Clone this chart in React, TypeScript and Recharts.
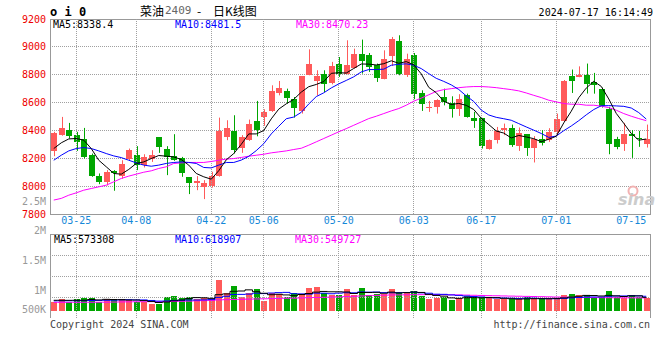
import {
  Bar,
  CartesianGrid,
  ComposedChart,
  Line,
  ReferenceArea,
  ReferenceLine,
  XAxis,
  YAxis,
} from 'recharts';

const dates = [
  '03-20', '03-21', '03-22', '03-25', '03-26', '03-27', '03-28', '03-29',
  '04-01', '04-02', '04-03', '04-08', '04-09', '04-10', '04-11', '04-12',
  '04-15', '04-16', '04-17', '04-18', '04-19', '04-22', '04-23', '04-24',
  '04-25', '04-26', '04-29', '04-30', '05-06', '05-07', '05-08', '05-09',
  '05-10', '05-13', '05-14', '05-15', '05-16', '05-17', '05-20', '05-21',
  '05-22', '05-23', '05-24', '05-27', '05-28', '05-29', '05-30', '05-31',
  '06-03', '06-04', '06-05', '06-06', '06-07', '06-11', '06-12', '06-13',
  '06-14', '06-17', '06-18', '06-19', '06-20', '06-21', '06-24', '06-25',
  '06-26', '06-27', '06-28', '07-01', '07-02', '07-03', '07-04', '07-05',
  '07-08', '07-09', '07-10', '07-11', '07-12', '07-15', '07-16', '07-17',
];

const opens = [
  8253, 8368, 8401, 8366, 8337, 8225, 8074, 8029, 8108, 8076,
  8198, 8222, 8151, 8193, 8351, 8265, 8217, 8201, 8064, 8024,
  7995, 8000, 8072, 8354, 8394, 8277, 8330, 8469, 8497, 8540,
  8669, 8681, 8624, 8538, 8801, 8755, 8808, 8741, 8880, 8808,
  8851, 8951, 8944, 8872, 8767, 8934, 9040, 8796, 8939, 8672,
  8564, 8569, 8640, 8597, 8552, 8653, 8490, 8490, 8265, 8330,
  8401, 8421, 8287, 8373, 8277, 8335, 8330, 8390, 8466, 8789,
  8784, 8796, 8748, 8695, 8552, 8342, 8306, 8371, 8347, 8301,
];

const highs = [
  8390, 8497, 8454, 8390, 8418, 8234, 8091, 8115, 8115, 8186,
  8270, 8287, 8229, 8258, 8351, 8287, 8373, 8210, 8064, 8072,
  8043, 8103, 8492, 8473, 8509, 8366, 8478, 8612, 8552, 8724,
  8755, 8700, 8640, 8791, 8982, 8832, 8832, 8892, 8927, 9047,
  8987, 9052, 8956, 8880, 8975, 9071, 9083, 8951, 8956, 8688,
  8612, 8624, 8700, 8645, 8660, 8664, 8533, 8490, 8335, 8425,
  8449, 8442, 8421, 8373, 8359, 8402, 8416, 8521, 8762, 8837,
  8860, 8880, 8813, 8707, 8569, 8354, 8454, 8402, 8397, 8442,
];

const lows = [
  8215, 8362, 8342, 8253, 8198, 8067, 8014, 8005, 7967, 8053,
  8182, 8115, 8134, 8174, 8239, 8079, 8182, 8067, 7943, 7971,
  7907, 7990, 8068, 8330, 8234, 8239, 8325, 8358, 8433, 8533,
  8652, 8593, 8492, 8521, 8796, 8652, 8676, 8731, 8784, 8803,
  8844, 8808, 8820, 8748, 8767, 8863, 8796, 8784, 8624, 8540,
  8533, 8521, 8580, 8492, 8504, 8492, 8418, 8270, 8262, 8306,
  8366, 8282, 8253, 8217, 8170, 8292, 8318, 8366, 8461, 8669,
  8782, 8665, 8664, 8564, 8229, 8265, 8253, 8203, 8282, 8277,
];

const closes = [
  8382, 8416, 8358, 8318, 8208, 8074, 8029, 8100, 8091, 8158,
  8263, 8151, 8206, 8222, 8282, 8206, 8186, 8096, 8024, 8036,
  8024, 8072, 8397, 8414, 8263, 8354, 8445, 8401, 8533, 8681,
  8707, 8633, 8562, 8791, 8875, 8789, 8736, 8860, 8808, 8868,
  8951, 8896, 8856, 8777, 8915, 9054, 8808, 8915, 8664, 8588,
  8569, 8617, 8605, 8552, 8629, 8497, 8468, 8287, 8330, 8397,
  8421, 8294, 8378, 8275, 8335, 8311, 8387, 8481, 8755, 8755,
  8798, 8731, 8724, 8574, 8301, 8282, 8373, 8359, 8335, 8342,
];

const ma5 = [
  8270, 8311, 8339, 8342, 8330, 8270, 8186, 8139, 8091, 8086,
  8120, 8163, 8174, 8198, 8220, 8215, 8210, 8191, 8151, 8091,
  8067, 8050, 8111, 8189, 8234, 8300, 8375, 8375, 8399, 8483,
  8553, 8591, 8623, 8675, 8714, 8730, 8751, 8810, 8814, 8812,
  8845, 8877, 8876, 8870, 8879, 8900, 8882, 8894, 8871, 8806,
  8709, 8671, 8609, 8586, 8594, 8580, 8550, 8487, 8442, 8396,
  8381, 8346, 8364, 8353, 8341, 8319, 8337, 8358, 8454, 8538,
  8635, 8704, 8753, 8716, 8626, 8522, 8451, 8378, 8330, 8338.4,
];

const ma10 = [
  8186, 8222, 8253, 8270, 8277, 8270, 8253, 8234, 8217, 8205,
  8186, 8167, 8151, 8143, 8151, 8163, 8170, 8174, 8170, 8163,
  8134, 8131, 8151, 8170, 8170, 8187, 8214, 8255, 8305, 8375,
  8430, 8484, 8496, 8530, 8590, 8643, 8670, 8705, 8734, 8759,
  8785, 8820, 8837, 8837, 8840, 8868, 8875, 8878, 8868, 8844,
  8808, 8774, 8752, 8727, 8694, 8648, 8608, 8546, 8511, 8494,
  8484, 8473, 8449, 8425, 8402, 8378, 8350, 8360, 8398, 8432,
  8470, 8512, 8550, 8577, 8578, 8576, 8573, 8561, 8528, 8481.5,
];

const ma30 = [
  7900, 7912, 7935, 7952, 7971, 7983, 7995, 8007, 8031, 8055,
  8072, 8086, 8100, 8110, 8127, 8139, 8163, 8167, 8170, 8170,
  8170, 8177, 8186, 8194, 8198, 8206, 8215, 8222, 8229, 8239,
  8246, 8253, 8263, 8272, 8294, 8318, 8342, 8366, 8390, 8413,
  8437, 8461, 8485, 8502, 8521, 8540, 8557, 8581, 8610, 8632,
  8656, 8680, 8693, 8700, 8707, 8712, 8715, 8715, 8712, 8707,
  8700, 8693, 8684, 8669, 8652, 8636, 8617, 8605, 8593, 8588,
  8588, 8581, 8581, 8574, 8564, 8545, 8521, 8502, 8485, 8470.23,
];

const volumes = [
  365000, 491000, 365000, 504000, 533000, 533000, 391000, 491000, 462000, 504000,
  462000, 391000, 365000, 281000, 281000, 575000, 630000, 533000, 575000, 504000,
  533000, 504000, 1302000, 743000, 1050000, 601000, 743000, 911000, 420000, 743000,
  701000, 601000, 743000, 672000, 953000, 995000, 743000, 672000, 672000, 911000,
  672000, 953000, 672000, 714000, 714000, 911000, 785000, 743000, 827000, 630000,
  504000, 559000, 601000, 462000, 533000, 630000, 575000, 575000, 533000, 491000,
  491000, 491000, 491000, 575000, 533000, 491000, 491000, 559000, 672000, 701000,
  672000, 672000, 533000, 575000, 827000, 575000, 533000, 672000, 575000, 533000,
];

const volMa5 = [
  450000, 452000, 448000, 452000, 452000, 485000, 465000, 490000, 482000, 476000,
  462000, 462000, 437000, 401000, 356000, 379000, 426000, 460000, 519000, 563000,
  555000, 530000, 684000, 717000, 826000, 840000, 888000, 810000, 745000, 684000,
  704000, 675000, 642000, 692000, 734000, 793000, 821000, 807000, 807000, 799000,
  734000, 776000, 776000, 784000, 745000, 793000, 759000, 773000, 796000, 779000,
  698000, 653000, 624000, 551000, 532000, 557000, 560000, 555000, 569000, 561000,
  533000, 516000, 499000, 508000, 516000, 516000, 516000, 530000, 549000, 583000,
  619000, 655000, 650000, 631000, 656000, 636000, 609000, 636000, 636000, 573308,
];

const volMa10 = [
  425000, 428000, 430000, 432000, 436000, 440000, 445000, 450000, 455000, 464000,
  474000, 464000, 464000, 442000, 416000, 421000, 444000, 449000, 460000, 460000,
  467000, 478000, 572000, 618000, 695000, 698000, 709000, 747000, 731000, 755000,
  772000, 782000, 726000, 719000, 709000, 749000, 748000, 725000, 750000, 767000,
  764000, 799000, 792000, 796000, 772000, 764000, 768000, 775000, 790000, 762000,
  746000, 706000, 699000, 674000, 656000, 628000, 607000, 590000, 560000, 547000,
  545000, 538000, 527000, 539000, 539000, 525000, 516000, 515000, 529000, 550000,
  568000, 586000, 590000, 590000, 620000, 628000, 632000, 643000, 634000, 618907,
];

const volMa30 = [
  362000, 363000, 364000, 365000, 366000, 367000, 368000, 370000, 375000, 380000,
  384000, 388000, 390000, 392000, 393000, 396000, 400000, 408000, 415000, 425000,
  435000, 445000, 465000, 475000, 485000, 492000, 498000, 505000, 512000, 520000,
  528000, 535000, 540000, 548000, 558000, 568000, 576000, 584000, 592000, 605000,
  618000, 632000, 645000, 655000, 665000, 672000, 676000, 680000, 684000, 686000,
  687000, 688000, 686000, 682000, 676000, 668000, 660000, 652000, 646000, 640000,
  632000, 626000, 620000, 614000, 608000, 602000, 595000, 588000, 582000, 576000,
  572000, 568000, 564000, 561000, 558000, 556000, 554000, 552000, 551000, 549727,
];

const dateTicks = ['03-25', '04-08', '04-22', '05-06', '05-20', '06-03', '06-17', '07-01', '07-15'];
// sina leaves the last date without a grid line
const gridDates = ['03-25', '04-08', '04-22', '05-06', '05-20', '06-03', '06-17', '07-01'];
const priceTicks = [7800, 8000, 8200, 8400, 8600, 8800, 9000, 9200];
const volumeLabels = ['2.5M', '2M', '1.5M', '1M', '500K'];

const RED = '#ff5a5a';
const GREEN = '#00a600';
const GRID = '#a0a0a0';
const BORDER = '#999999';
const MONO = '"DejaVu Sans Mono", monospace';
const CJK = '"Noto Sans CJK SC", sans-serif';

const VOL_MIN = -294000;
const VOL_MAX = 3234000;
const volGrid = [1, 2, 3].map((k) => VOL_MIN + ((VOL_MAX - VOL_MIN) * k) / 4);
// label rows of the volume axis, as sina prints them
const volumeLabelY = [201, 230.5, 260.3, 290.3, 309.7];

const rows = dates.map((date, i) => ({
  date,
  open: opens[i],
  high: highs[i],
  low: lows[i],
  close: closes[i],
  ma5: ma5[i],
  ma10: ma10[i],
  ma30: ma30[i],
  volume: volumes[i],
  volMa5: volMa5[i],
  volMa10: volMa10[i],
  volMa30: volMa30[i],
}));

const Candle = (props: any) => {
  const { x, y, width, height, payload } = props;
  if (!payload) return null;
  const { open, close, high, low } = payload;
  const color = close >= open ? RED : GREEN;
  const top = Math.min(y, y + height);
  const h = Math.abs(height);
  const unit = h / (high - low || 1);
  const bodyTop = top + (high - Math.max(open, close)) * unit;
  const bodyBottom = top + (high - Math.min(open, close)) * unit;
  const left = Math.round(x);
  const w = Math.round(width);
  const cx = left + Math.floor(w / 2) + 0.5;

  return (
    <g>
      <line x1={cx} x2={cx} y1={top} y2={top + h} stroke={color} strokeWidth={1} />
      <rect
        x={left}
        y={Math.round(bodyTop)}
        width={w}
        height={Math.max(Math.round(bodyBottom) - Math.round(bodyTop), 1)}
        fill={color}
      />
    </g>
  );
};

const VolumeBar = (props: any) => {
  const { x, y, width, height, payload } = props;
  if (!payload) return null;
  const color = payload.close >= payload.open ? RED : GREEN;
  const top = Math.min(y, y + height);
  return (
    <rect
      x={Math.round(x)}
      y={Math.round(top)}
      width={Math.round(width)}
      height={Math.round(Math.abs(height))}
      fill={color}
    />
  );
};

const monoText = { fontFamily: MONO, fontSize: 10 };

const App = () => {
  return (
    <div
      style={{
        position: 'absolute',
        left: 0,
        top: 0,
        width: 660,
        height: 360,
        background: '#fff',
      }}
    >
      <div style={{ position: 'absolute', left: 0, top: 0 }}>
        <ComposedChart
          width={660}
          height={232}
          data={rows}
          margin={{ top: 19, right: 10, left: 0, bottom: 0 }}
        >
          <CartesianGrid
            vertical={false}
            stroke={GRID}
            strokeDasharray="1 1"
            shapeRendering="crispEdges"
          />
          {gridDates.map((d) => (
            <ReferenceLine
              key={d}
              x={d}
              stroke={GRID}
              strokeDasharray="1 1"
              shapeRendering="crispEdges"
            />
          ))}
          <XAxis
            dataKey="date"
            ticks={dateTicks}
            interval={0}
            axisLine={false}
            tickLine={false}
            tickSize={0}
            tickMargin={3}
            height={18}
            tick={{ fill: '#1488d8', ...monoText }}
          />
          <YAxis
            width={50}
            domain={[7800, 9200]}
            ticks={priceTicks}
            interval={0}
            axisLine={false}
            tickLine={false}
            tickSize={0}
            tickMargin={4}
            tick={{ fill: '#ee0000', ...monoText }}
          />
          <Bar
            dataKey={(d: any) => [d.low, d.high]}
            barSize={6}
            shape={Candle}
            isAnimationActive={false}
          />
          <Line dataKey="ma30" stroke="#ff00ff" strokeWidth={1} dot={false} isAnimationActive={false} />
          <Line dataKey="ma10" stroke="#0000ff" strokeWidth={1} dot={false} isAnimationActive={false} />
          <Line dataKey="ma5" stroke="#000000" strokeWidth={1} dot={false} isAnimationActive={false} />
          <ReferenceArea
            y1={7800}
            y2={9200}
            fill="none"
            stroke={BORDER}
            strokeWidth={1}
            shapeRendering="crispEdges"
            ifOverflow="visible"
          />
        </ComposedChart>
      </div>

      <div style={{ position: 'absolute', left: 0, top: 226 }}>
        <ComposedChart
          width={660}
          height={92}
          data={rows}
          margin={{ top: 8, right: 10, left: 0, bottom: 0 }}
        >
          {volGrid.map((v) => (
            <ReferenceLine
              key={v}
              y={v}
              stroke={GRID}
              strokeDasharray="1 1"
              shapeRendering="crispEdges"
            />
          ))}
          {gridDates.map((d) => (
            <ReferenceLine
              key={d}
              x={d}
              stroke={GRID}
              strokeDasharray="1 1"
              shapeRendering="crispEdges"
            />
          ))}
          <XAxis dataKey="date" hide />
          <YAxis
            width={50}
            domain={[VOL_MIN, VOL_MAX]}
            axisLine={false}
            tickLine={false}
            tick={false}
          />
          <Bar dataKey="volume" barSize={6} shape={VolumeBar} isAnimationActive={false} />
          <Line type="step" dataKey="volMa30" stroke="#ff00ff" strokeWidth={1} dot={false} isAnimationActive={false} />
          <Line type="step" dataKey="volMa10" stroke="#0000ff" strokeWidth={1} dot={false} isAnimationActive={false} />
          <Line type="step" dataKey="volMa5" stroke="#000000" strokeWidth={1} dot={false} isAnimationActive={false} />
          <ReferenceArea
            y1={VOL_MIN}
            y2={VOL_MAX}
            fill="none"
            stroke={BORDER}
            strokeWidth={1}
            shapeRendering="crispEdges"
            ifOverflow="visible"
          />
        </ComposedChart>
      </div>

      <svg
        width={660}
        height={360}
        style={{ position: 'absolute', left: 0, top: 0, pointerEvents: 'none' }}
      >
        <text x={50} y={12} dominantBaseline="central" fontFamily={MONO} fontSize={12} fontWeight="bold" fill="#000">
          o i 0
        </text>
        <text x={140} y={10} dominantBaseline="central" fontFamily={CJK} fontSize={12} fill="#000">
          菜油
        </text>
        <text x={165} y={10} dominantBaseline="central" fontFamily={MONO} fontSize={11} fill="#666">
          2409
        </text>
        <text x={197} y={10} dominantBaseline="central" fontFamily={CJK} fontSize={12} fill="#000">
          -
        </text>
        <text x={213} y={10} dominantBaseline="central" fontFamily={CJK} fontSize={12} fill="#000">
          日K线图
        </text>
        <text x={653} y={12} textAnchor="end" dominantBaseline="central" {...monoText} fill="#000">
          2024-07-17 16:14:49
        </text>

        <text x={53} y={24} dominantBaseline="central" {...monoText} fill="#000">
          MA5:8338.4
        </text>
        <text x={175} y={24} dominantBaseline="central" {...monoText} fill="#0000ff">
          MA10:8481.5
        </text>
        <text x={296} y={24} dominantBaseline="central" {...monoText} fill="#ff00ff">
          MA30:8470.23
        </text>

        {volumeLabels.map((label, i) => (
          <text
            key={label}
            x={46}
            y={volumeLabelY[i]}
            textAnchor="end"
            dominantBaseline="central"
            {...monoText}
            fill="#999"
          >
            {label}
          </text>
        ))}

        <text x={54} y={239} dominantBaseline="central" {...monoText} fill="#000">
          MA5:573308
        </text>
        <text x={175} y={239} dominantBaseline="central" {...monoText} fill="#0000ff">
          MA10:618907
        </text>
        <text x={295} y={239} dominantBaseline="central" {...monoText} fill="#ff00ff">
          MA30:549727
        </text>

        <circle cx={633} cy={191} r={4.5} fill="none" stroke="#f2b2b2" strokeWidth={2} />
        <text x={618} y={205} fontFamily="DejaVu Sans, sans-serif" fontSize={16} fontStyle="italic" fontWeight="bold" fill="#cccccc">
          sina
        </text>

        <text x={50} y={324} dominantBaseline="central" {...monoText} fill="#444">
          Copyright 2024 SINA.COM
        </text>
        <text x={650} y={324} textAnchor="end" dominantBaseline="central" {...monoText} fill="#444">
          http://finance.sina.com.cn
        </text>
      </svg>
    </div>
  );
};

export default App;
